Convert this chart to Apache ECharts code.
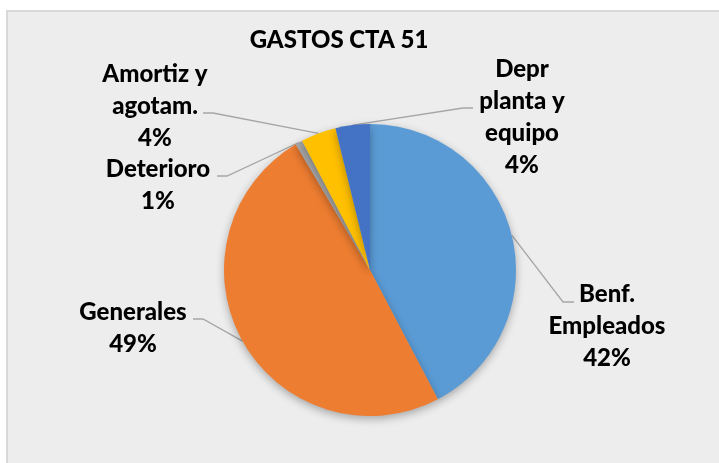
<!DOCTYPE html>
<html>
<head>
<meta charset="utf-8">
<script src="https://cdn.jsdelivr.net/npm/echarts@6/dist/echarts.min.js"></script>
<style>
  html, body { margin: 0; padding: 0; background: #fff; }
  #main { width: 719px; height: 463px; }
</style>
</head>
<body>
<div id="main"></div>
<script>
// datos del gráfico
var categorias = ['Benf.\nEmpleados', 'Generales', 'Deterioro', 'Amortiz y\nagotam.', 'Depr\nplanta y\nequipo'];
var valores = [42.3, 49.2, 0.8, 3.9, 3.8];
var colores = ['#5B9BD5', '#ED7D31', '#A5A5A5', '#FFC000', '#4472C4'];

// posición de las etiquetas (centro) y del codo de la línea guía
var etiquetaPos = [[607, 326], [133, 328], [158, 185], [155, 106], [522, 117]];
var codoPos = [[563, 302], [203, 319], [227, 176], [213, 113], [463, 108]];
var finPos = [[574, 302], [193, 319], [217, 176], [203, 113], [473, 108]];

var myChart = echarts.init(document.getElementById('main'));

var option = {
    animation: false,
    title: {
        text: 'GASTOS CTA 51',
        left: 334,
        top: 23,
        textAlign: 'center',
        textStyle: {
            fontFamily: 'Lato',
            fontWeight: 900,
            fontSize: 24,
            color: '#000'
        }
    },
    graphic: [
        { // fondo del área del gráfico
            type: 'rect',
            z: -10,
            shape: { x: 7, y: 11, width: 720, height: 460 },
            style: { fill: '#EDEDED', stroke: '#D9D9D9', lineWidth: 2 }
        }
    ],
    series: [
        {
            type: 'pie',
            center: [370, 270],
            radius: 146,
            startAngle: 90,
            clockwise: true,
            percentPrecision: 0,
            avoidLabelOverlap: false,
            itemStyle: {
                borderWidth: 0,
                shadowBlur: 8,
                shadowOffsetY: 3,
                shadowColor: 'rgba(0,0,0,0.3)'
            },
            label: {
                show: true,
                position: 'outside',
                formatter: '{b}\n{d}%',
                fontFamily: 'Lato',
                fontWeight: 900,
                fontSize: 24,
                lineHeight: 32,
                color: '#000'
            },
            labelLine: {
                show: true,
                lineStyle: { color: '#A6A6A6', width: 1.3 }
            },
            labelLayout: function (params) {
                var i = params.dataIndex;
                var p0 = params.labelLinePoints ? params.labelLinePoints[0] : codoPos[i];
                return {
                    x: etiquetaPos[i][0],
                    y: etiquetaPos[i][1],
                    align: 'center',
                    verticalAlign: 'middle',
                    labelLinePoints: [p0, codoPos[i], finPos[i]]
                };
            },
            data: categorias.map(function (c, i) {
                return { name: c, value: valores[i], itemStyle: { color: colores[i] } };
            })
        }
    ]
};

myChart.setOption(option, true);
</script>
</body>
</html>
